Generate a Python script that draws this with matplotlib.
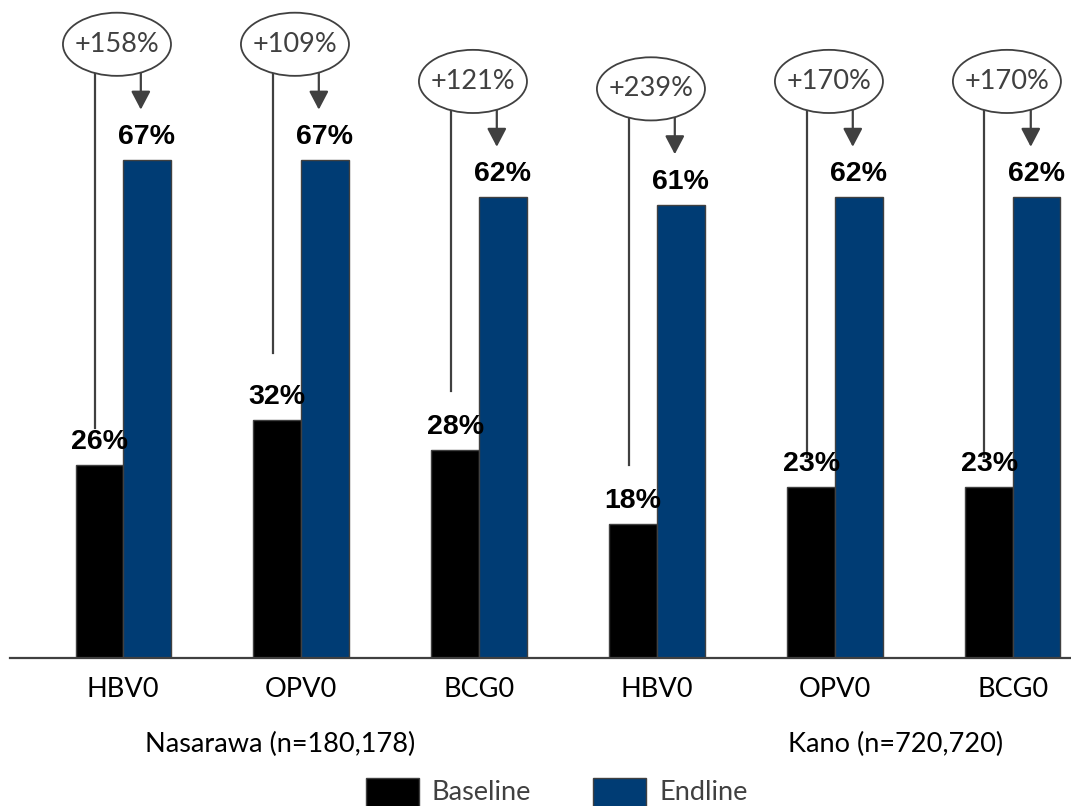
import numpy as np
import matplotlib.pyplot as plt
from matplotlib.patches import Ellipse, Rectangle

vaccines = ['HBV0', 'OPV0', 'BCG0', 'HBV0', 'OPV0', 'BCG0']
baseline = [26, 32, 28, 18, 23, 23]
endline = [67, 67, 62, 61, 62, 62]
change = ['+158%', '+109%', '+121%', '+239%', '+170%', '+170%']
states = ['Nasarawa (n=180,178)', 'Kano (n=720,720)']
series = ['Baseline', 'Endline']
colors = ['#000000', '#003c74']

# where the left connector line stops (in % units), layout only
stem_end = [31, 41, 36, 26, 27, 27]

grey = '#404040'
W, H = 1071, 806
fig = plt.figure(figsize=(W / 100, H / 100), dpi=100)
ax = fig.add_axes([10 / W, 148 / H, 1061 / W, 658 / H])

x = np.arange(len(vaccines))
w = 0.267
ax.bar(x - w / 2, baseline, w, color=colors[0], edgecolor=grey, linewidth=1, zorder=2)
ax.bar(x + w / 2, endline, w, color=colors[1], edgecolor=grey, linewidth=1, zorder=2)
ax.set_xlim(-0.635, 5.326)
ax.set_ylim(0, 658 / 7.43)

for spine in ['top', 'right', 'left']:
    ax.spines[spine].set_visible(False)
ax.spines['bottom'].set_color(grey)
ax.spines['bottom'].set_linewidth(1.6)
ax.set_yticks([])
ax.set_xticks(x, vaccines, fontsize=19.5, family='Lato', color='black')
ax.tick_params(axis='x', length=0, pad=14)

val_font = dict(family='Liberation Sans', fontweight='bold', fontsize=20.5,
                ha='center', va='baseline', color='black', zorder=5)
for i in x:
    b, e = baseline[i], endline[i]
    ax.text(i - w / 2, b + 2.15, f'{b}%', **val_font)
    ax.text(i + w / 2, e + 2.15, f'{e}%', **val_font)

    cx, cy = i - 0.034, e + 15.6
    # left connector down to the baseline bar
    ax.plot([i - 0.16, i - 0.16], [cy, stem_end[i]], color=grey, lw=1.6,
            zorder=3, clip_on=False)
    # arrow down to the endline bar
    ax.annotate('', xy=(i + 0.1, e + 6.8), xytext=(i + 0.1, cy),
                arrowprops=dict(arrowstyle='-|>,head_length=0.8,head_width=0.42',
                                mutation_scale=14, color=grey, lw=1.6,
                                shrinkA=0, shrinkB=0),
                zorder=3, annotation_clip=False)
    ax.add_patch(Ellipse((cx, cy), 0.607, 8.5, facecolor='white', edgecolor=grey,
                         lw=1.3, zorder=4, clip_on=False))
    ax.text(cx, cy, change[i], ha='center', va='center', fontsize=19.5,
            family='Lato', color=grey, zorder=5)

# state labels under the ticks
for label, pos in zip(states, [0.882, 4.343]):
    ax.text(pos, -(752 - 658) / 658, label, transform=ax.get_xaxis_transform(),
            ha='center', va='baseline', fontsize=19.5, family='Lato', color='black')

# legend along the bottom edge
for label, color, px in zip(series, colors, [366, 593]):
    fig.patches.append(Rectangle((px / W, -10 / H), 53 / W, 38 / H, transform=fig.transFigure,
                                 facecolor=color, edgecolor=grey, lw=1))
    fig.text((px + 66) / W, (H - 800) / H, label, ha='left', va='baseline',
             fontsize=19.5, family='Lato', color=grey)

fig.savefig('out.png', dpi=100)
